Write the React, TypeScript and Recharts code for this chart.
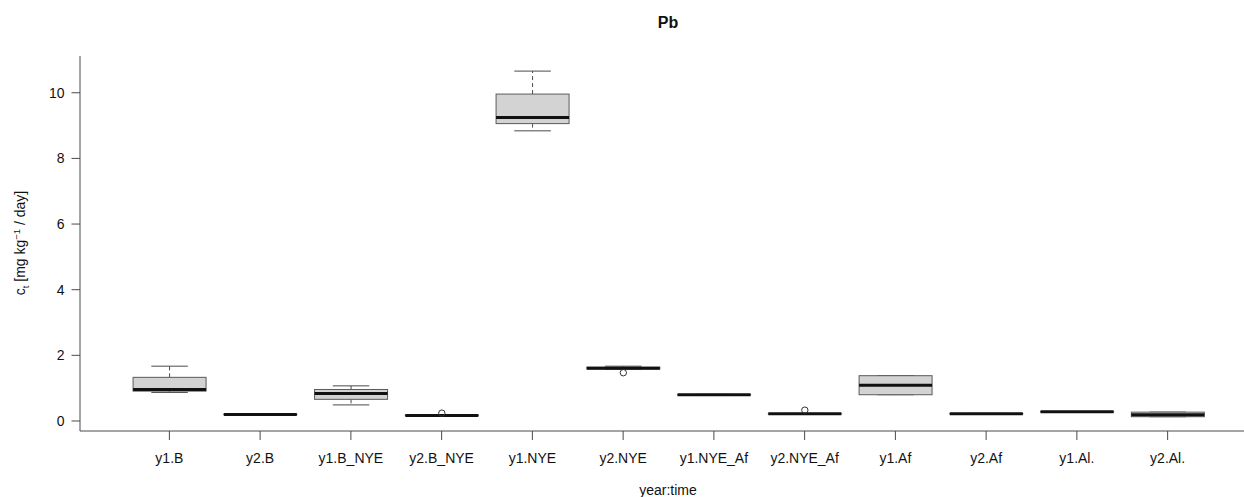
import React from 'react';
import { ComposedChart, Bar, XAxis, YAxis } from 'recharts';

const categories = ['y1.B', 'y2.B', 'y1.B_NYE', 'y2.B_NYE', 'y1.NYE', 'y2.NYE', 'y1.NYE_Af', 'y2.NYE_Af', 'y1.Af', 'y2.Af', 'y1.Al.', 'y2.Al.'];
const whiskerLow = [0.87, 0.19, 0.49, 0.16, 8.84, 1.58, 0.79, 0.21, 0.8, 0.21, 0.27, 0.13];
const q1 = [0.91, 0.195, 0.66, 0.165, 9.06, 1.585, 0.795, 0.215, 0.8, 0.215, 0.275, 0.13];
const median = [0.96, 0.2, 0.84, 0.17, 9.25, 1.61, 0.8, 0.22, 1.09, 0.22, 0.28, 0.19];
const q3 = [1.33, 0.205, 0.96, 0.175, 9.96, 1.64, 0.805, 0.225, 1.38, 0.225, 0.285, 0.27];
const whiskerHigh = [1.67, 0.21, 1.07, 0.18, 10.66, 1.67, 0.81, 0.23, 1.38, 0.23, 0.29, 0.27];
const outliers: number[][] = [[], [], [], [0.24], [], [1.47], [], [0.33], [], [], [], []];
const yTicks = [0, 2, 4, 6, 8, 10];

const data = categories.map((name, i) => {
  const all = [whiskerLow[i], whiskerHigh[i], ...outliers[i]];
  return {
    name,
    lo: Math.min(...all),
    hi: Math.max(...all),
    wl: whiskerLow[i],
    q1: q1[i],
    med: median[i],
    q3: q3[i],
    wh: whiskerHigh[i],
    out: outliers[i],
  };
});

const FONT = '"Liberation Sans", Arial, Helvetica, sans-serif';
const LINE = '#4a4a4a';
const FS = 14;

const BoxShape = (props: any) => {
  const { x, y, width, height } = props;
  const p = props.payload ?? props;
  const top = Math.min(y, y + height);
  const bottom = Math.max(y, y + height);
  const span = p.hi - p.lo;
  const py = (v: number) => (span > 0 ? bottom - ((bottom - top) * (v - p.lo)) / span : top);
  const cx = x + width / 2;
  const sw = width / 4;
  return (
    <g>
      <line x1={cx} x2={cx} y1={py(p.q3)} y2={py(p.wh)} stroke={LINE} strokeDasharray="4 3" strokeWidth={1} />
      <line x1={cx} x2={cx} y1={py(p.q1)} y2={py(p.wl)} stroke={LINE} strokeDasharray="4 3" strokeWidth={1} />
      <line x1={cx - sw} x2={cx + sw} y1={py(p.wh)} y2={py(p.wh)} stroke={LINE} strokeWidth={1} />
      <line x1={cx - sw} x2={cx + sw} y1={py(p.wl)} y2={py(p.wl)} stroke={LINE} strokeWidth={1} />
      <rect x={x} y={py(p.q3)} width={width} height={Math.max(0.01, py(p.q1) - py(p.q3))} fill="#d3d3d3" stroke="#5a5a5a" strokeWidth={1} />
      <line x1={x} x2={x + width} y1={py(p.med)} y2={py(p.med)} stroke="#111" strokeWidth={3} />
      {p.out.map((o: number, k: number) => (
        <circle key={k} cx={cx} cy={py(o)} r={3.2} fill="none" stroke="#333" strokeWidth={1} />
      ))}
    </g>
  );
};

export default function App() {
  return (
    <div style={{ position: 'absolute', left: 0, top: 0, width: 1244, height: 497, background: '#fff', fontFamily: FONT }}>
      <ComposedChart width={1244} height={497} data={data} margin={{ top: 56, right: 0, bottom: 0, left: 0 }} barCategoryGap="10%">
        <XAxis
          dataKey="name"
          height={66}
          padding={{ left: 44, right: 31 }}
          tickSize={9}
          tickMargin={13}
          stroke={LINE}
          tick={{ fill: '#111', fontSize: FS, fontFamily: FONT }}
          interval={0}
        />
        <XAxis xAxisId="top" dataKey="name" orientation="top" height={0} tick={false} tickLine={false} stroke={LINE} />
        <YAxis
          type="number"
          domain={[-0.305, 11.12]}
          ticks={yTicks}
          width={80}
          tickSize={8.5}
          tickMargin={7}
          stroke={LINE}
          allowDataOverflow
          tick={{ fill: '#111', fontSize: FS, fontFamily: FONT }}
        />
        <Bar dataKey={(d: any) => [d.lo, d.hi]} shape={BoxShape} isAnimationActive={false} />
      </ComposedChart>
      <div style={{ position: 'absolute', left: 668, top: 23, transform: 'translate(-50%, -50%)', fontWeight: 'bold', fontSize: 16, color: '#111', whiteSpace: 'nowrap' }}>Pb</div>
      <div style={{ position: 'absolute', left: 668, top: 490, transform: 'translate(-50%, -50%)', fontSize: FS, color: '#111', whiteSpace: 'nowrap' }}>year:time</div>
      <div style={{ position: 'absolute', left: 21, top: 243, transform: 'translate(-50%, -50%) rotate(-90deg)', fontSize: FS, color: '#111', whiteSpace: 'nowrap', lineHeight: 1 }}>
        c<sub style={{ fontSize: 9.5 }}>t</sub> [mg kg<sup style={{ fontSize: 9.5 }}>−1</sup> / day]
      </div>
    </div>
  );
}
